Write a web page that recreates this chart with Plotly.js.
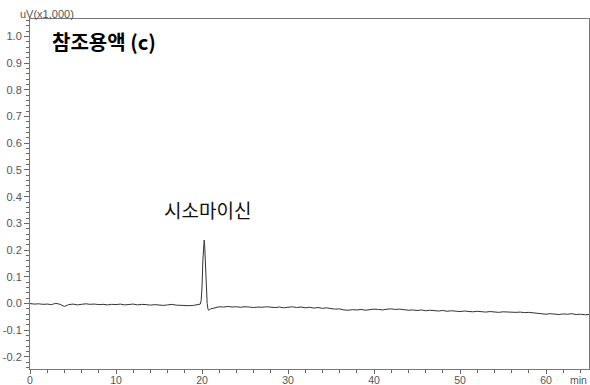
<!DOCTYPE html>
<html>
<head>
<meta charset="utf-8">
<script src="https://cdn.plot.ly/plotly-3.0.1.min.js"></script>
<style>html,body{margin:0;padding:0;background:#fff;}#chart{width:590px;height:385px;}</style>
</head>
<body>
<div id="chart"></div>
<script>
// Retention time (min)
const timeMin = [
  0,0.5,1,1.5,2,2.5,3,3.5,4,4.5,5,5.5,6,6.5,7,7.5,8,8.5,9,9.5,
  10,10.5,11,11.5,12,12.5,13,13.5,14,14.5,15,15.5,16,16.5,17,17.5,18,18.5,19,19.5,
  19.8,19.9,20.0,20.1,20.2,20.25,20.3,20.4,20.5,20.6,20.7,20.8,
  21,21.5,22,22.5,23,23.5,24,24.5,25,25.5,26,26.5,27,27.5,28,28.5,29,29.5,
  30,30.5,31,31.5,32,32.5,33,33.5,34,34.5,35,35.5,36,36.5,37,37.5,38,38.5,39,39.5,
  40,40.5,41,41.5,42,42.5,43,43.5,44,44.5,45,45.5,46,46.5,47,47.5,48,48.5,49,49.5,
  50,50.5,51,51.5,52,52.5,53,53.5,54,54.5,55,55.5,56,56.5,57,57.5,58,58.5,59,59.5,
  60,60.5,61,61.5,62,62.5,63,63.5,64,64.5,65
];
// Signal (uV x1,000)
const signal = [
  0.000,-0.002,-0.001,-0.003,-0.002,-0.004,0.001,-0.003,-0.011,-0.004,-0.002,-0.005,-0.003,-0.001,-0.003,-0.002,-0.004,-0.003,-0.005,-0.003,
  -0.004,-0.002,-0.005,-0.003,-0.002,-0.005,-0.003,-0.004,-0.006,-0.004,-0.005,-0.007,-0.005,-0.003,-0.006,-0.007,-0.006,-0.008,-0.007,-0.004,
  -0.002,0.010,0.060,0.160,0.232,0.237,0.225,0.140,0.050,0.000,-0.022,-0.025,
  -0.020,-0.015,-0.012,-0.013,-0.011,-0.013,-0.012,-0.014,-0.012,-0.013,-0.015,-0.013,-0.014,-0.012,-0.014,-0.015,-0.013,-0.016,
  -0.014,-0.012,-0.015,-0.013,-0.016,-0.014,-0.017,-0.015,-0.018,-0.016,-0.019,-0.021,-0.020,-0.024,-0.025,-0.023,-0.024,-0.022,-0.025,-0.023,
  -0.021,-0.022,-0.024,-0.021,-0.020,-0.022,-0.021,-0.023,-0.025,-0.024,-0.026,-0.024,-0.027,-0.025,-0.026,-0.028,-0.026,-0.029,-0.027,-0.028,
  -0.030,-0.028,-0.029,-0.031,-0.029,-0.030,-0.032,-0.030,-0.031,-0.033,-0.031,-0.032,-0.031,-0.033,-0.032,-0.034,-0.033,-0.035,-0.037,-0.039,
  -0.040,-0.038,-0.039,-0.041,-0.039,-0.040,-0.038,-0.041,-0.040,-0.042,-0.041
];
const xTickVals = [0,10,20,30,40,50,60];
const yTickVals = [-0.2,-0.1,0.0,0.1,0.2,0.3,0.4,0.5,0.6,0.7,0.8,0.9,1.0];
const chartTitle = '참조용액 (c)';
const peakLabel = '시소마이신';
const peakLabelPos = [20.6, 0.353];
const yUnit = 'uV(x1,000)';
const xUnit = 'min';

const tickFont = {family: 'Arial, Liberation Sans, sans-serif', size: 11, color: '#555'};
const xTickFont = {family: 'Arial, Liberation Sans, sans-serif', size: 10.5, color: '#555'};

Plotly.newPlot('chart', [{
  x: timeMin, y: signal, type: 'scatter', mode: 'lines',
  line: {color: '#333', width: 1}, hoverinfo: 'skip'
}], {
  width: 590, height: 385,
  margin: {l: 30, r: 1, t: 19, b: 16, pad: 0},
  paper_bgcolor: '#fff', plot_bgcolor: '#fff',
  showlegend: false,
  xaxis: {
    range: [0, 65], tickvals: xTickVals, ticktext: xTickVals.map(String),
    ticks: 'outside', ticklen: 4, tickcolor: '#666', tickwidth: 1,
    ticklabelstandoff: -3,
    showgrid: false, zeroline: false, showline: true, linecolor: '#777', linewidth: 1, mirror: true,
    tickfont: xTickFont,
    minor: {dtick: 2, ticks: 'outside', ticklen: 3, tickcolor: '#666', showgrid: false}
  },
  yaxis: {
    range: [-0.245, 1.065], tickvals: yTickVals, ticktext: yTickVals.map(v => v.toFixed(1)),
    ticks: 'outside', ticklen: 5, tickcolor: '#666', tickwidth: 1,
    showgrid: false, zeroline: false, showline: true, linecolor: '#777', linewidth: 1, mirror: true,
    tickfont: tickFont,
    minor: {dtick: 0.02, ticks: 'outside', ticklen: 3, tickcolor: '#666', showgrid: false}
  },
  annotations: [
    {text: '<b>' + chartTitle + '</b>', xref: 'paper', yref: 'paper', x: 0.036, y: 0.935,
     xanchor: 'left', yanchor: 'middle', showarrow: false,
     font: {family: 'Noto Sans CJK KR, sans-serif', size: 20, color: '#000'}},
    {text: peakLabel, xref: 'x', yref: 'y', x: peakLabelPos[0], y: peakLabelPos[1],
     xanchor: 'center', yanchor: 'middle', showarrow: false,
     font: {family: 'Noto Sans CJK KR, sans-serif', size: 19, color: '#111'}},
    {text: yUnit, xref: 'paper', yref: 'paper', x: -0.022, y: 1.0, xanchor: 'left', yanchor: 'bottom',
     showarrow: false, font: tickFont, yshift: -3},
    {text: xUnit, xref: 'paper', yref: 'paper', x: 1.0, y: 0, xanchor: 'right', yanchor: 'top',
     showarrow: false, font: xTickFont, yshift: -3}
  ]
}, {staticPlot: true, displayModeBar: false});
</script>
</body>
</html>
